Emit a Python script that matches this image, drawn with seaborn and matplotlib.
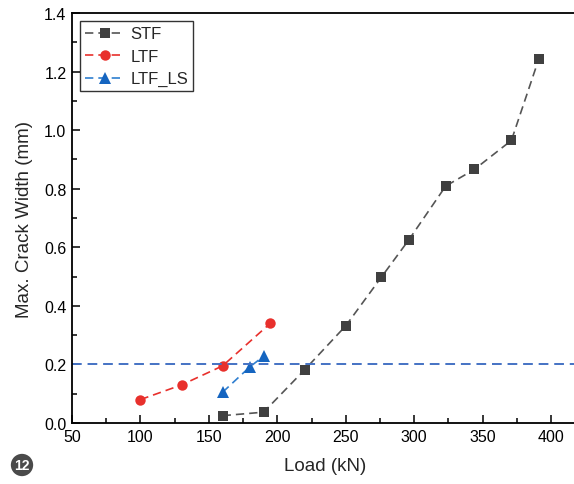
import numpy as np
import pandas as pd
import seaborn as sns
import matplotlib.pyplot as plt
from matplotlib.ticker import MultipleLocator

# data
stf_load = [160, 190, 220, 250, 276, 296, 323, 344, 371, 391]
stf_width = [0.025, 0.037, 0.182, 0.332, 0.498, 0.625, 0.809, 0.866, 0.965, 1.243]
ltf_load = [100, 130, 160, 195]
ltf_width = [0.080, 0.130, 0.195, 0.341]
ls_load = [160, 180, 190]
ls_width = [0.105, 0.192, 0.228]
limit = 0.2

sns.set_theme(style="ticks")
plt.rcParams['font.family'] = ['Liberation Sans', 'DejaVu Sans']

fig = plt.figure(figsize=(5.74, 4.85), dpi=100)
ax = fig.add_axes([72 / 574, 61 / 485, 506.5 / 574, 410 / 485])

dash = (5, 3)
sns.lineplot(x=stf_load, y=stf_width, ax=ax, color="#555555", lw=1.2,
             marker="s", markersize=6.5, markerfacecolor="#404040", markeredgewidth=0, label="STF")
sns.lineplot(x=ltf_load, y=ltf_width, ax=ax, color="#e8302c", lw=1.2,
             marker="o", markersize=7.5, markerfacecolor="#e8302c", markeredgewidth=0, label="LTF")
sns.lineplot(x=ls_load, y=ls_width, ax=ax, color="#2f7fd0", lw=1.2,
             marker="^", markersize=8, markerfacecolor="#1565c0", markeredgewidth=0, label="LTF_LS")
for line in ax.get_lines():
    line.set_dashes(dash)

ax.axhline(limit, color="#4472c4", lw=1.4, dashes=(5, 3))

ax.set_xlim(50, 420)
ax.set_ylim(0, 1.4)
ax.xaxis.set_major_locator(MultipleLocator(50))
ax.xaxis.set_minor_locator(MultipleLocator(25))
ax.yaxis.set_major_locator(MultipleLocator(0.2))
ax.yaxis.set_minor_locator(MultipleLocator(0.1))
ax.yaxis.set_major_formatter(plt.FormatStrFormatter('%.1f'))
ax.tick_params(which="both", direction="in", top=False, right=False, width=1.1, colors="black",
               labelsize=11.5, pad=4)
ax.tick_params(which="major", length=6)
ax.tick_params(which="minor", length=3.5)
for s in ax.spines.values():
    s.set_linewidth(1.3)
    s.set_color("black")

ax.set_xlabel("Load (kN)", fontsize=13.5, labelpad=10)
ax.set_ylabel("Max. Crack Width (mm)", fontsize=13.5, labelpad=8)

leg = ax.legend(loc="upper left", fontsize=12, frameon=True, fancybox=False, edgecolor="black",
                borderaxespad=0.5, handlelength=2.4, labelspacing=0.45, borderpad=0.3, handletextpad=0.3)
leg.get_frame().set_linewidth(1.0)

fig.text(22 / 574, 1 - 466 / 485, "12", color="white", fontsize=10, fontweight="bold",
         ha="center", va="center",
         bbox=dict(boxstyle="circle,pad=0.25", fc="#4a4a4a", ec="none"))

fig.savefig("out.png", dpi=100)
